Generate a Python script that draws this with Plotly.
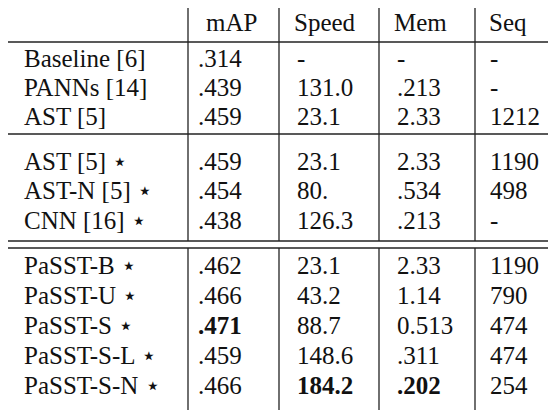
import plotly.graph_objects as go

headers = ["mAP", "Speed", "Mem", "Seq"]
models = ["Baseline [6]", "PANNs [14]", "AST [5]", "AST [5] ⋆", "AST-N [5] ⋆", "CNN [16] ⋆",
          "PaSST-B ⋆", "PaSST-U ⋆", "PaSST-S ⋆", "PaSST-S-L ⋆", "PaSST-S-N ⋆"]
mAP = [".314", ".439", ".459", ".459", ".454", ".438", ".462", ".466", "<b>.471</b>", ".459", ".466"]
speed = ["-", "131.0", "23.1", "23.1", "80.", "126.3", "23.1", "43.2", "88.7", "148.6", "<b>184.2</b>"]
mem = ["-", ".213", "2.33", "2.33", ".534", ".213", "2.33", "1.14", "0.513", ".311", "<b>.202</b>"]
seq = ["-", "-", "1212", "1190", "498", "-", "1190", "790", "474", "474", "254"]

row_y = [53, 82, 111, 156, 185, 215, 260, 290, 320, 350, 380]
col_x = [16, 190, 289, 389, 482]
head_x = [198, 286, 386, 481]
head_y = 17
vlines = [180, 271, 371, 467]

font = dict(family="Liberation Serif, Times New Roman, serif", size=25, color="#111")
fig = go.Figure()
cols = [models, mAP, speed, mem, seq]
for i, c in enumerate(cols):
    fig.add_trace(go.Scatter(x=[col_x[i]] * len(c), y=row_y, text=c, mode="text",
                             textposition="middle right", textfont=font, hoverinfo="skip"))
fig.add_trace(go.Scatter(x=head_x, y=[head_y] * 4, text=headers, mode="text",
                         textposition="middle right", textfont=font, hoverinfo="skip"))

lc = dict(color="#222", width=1.3)
for y in [34, 126, 233, 240, 407]:
    fig.add_shape(type="line", x0=0, x1=556, y0=y, y1=y, line=lc)
for x in vlines:
    fig.add_shape(type="line", x0=x, x1=x, y0=0, y1=233, line=lc)
    fig.add_shape(type="line", x0=x, x1=x, y0=240, y1=407, line=lc)

fig.update_layout(width=556, height=410, margin=dict(l=0, r=0, t=0, b=0),
                  plot_bgcolor="white", paper_bgcolor="white", showlegend=False,
                  xaxis=dict(range=[0, 556], visible=False, fixedrange=True),
                  yaxis=dict(range=[410, 0], visible=False, fixedrange=True))
fig.write_html("out.html")
